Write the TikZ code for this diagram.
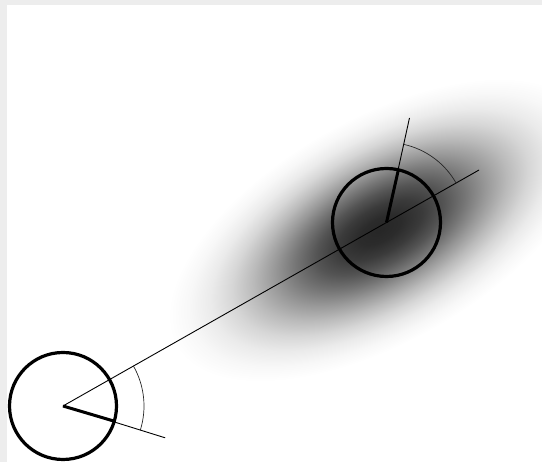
\documentclass[tikz,border=0pt]{standalone}
\usetikzlibrary{calc}
\pgfdeclareradialshading{blob}{\pgfpoint{0bp}{0bp}}{color(0bp)=(black!85); color(2.5bp)=(black!83); color(5bp)=(black!77); color(7.5bp)=(black!67); color(10bp)=(black!54); color(12.5bp)=(black!40); color(15bp)=(black!27); color(17.5bp)=(black!16); color(20bp)=(black!8); color(22.5bp)=(black!3); color(25bp)=(white); color(50bp)=(white)}
\definecolor{bggray}{HTML}{EDEDED}
\begin{document}
\begin{tikzpicture}[x=1pt,y=1pt,
  wheel/.style={line width=3.2pt},
  spoke/.style={line width=3pt},
  thinline/.style={line width=0.9pt},
  anglearc/.style={line width=0.7pt, black!85}]
\useasboundingbox (0,0) rectangle (542,462);
\fill[bggray] (0,0) rectangle (542,462);
\fill[white] (7.3,0) rectangle (542,457.3);
\shade[shading=blob, transform canvas={shift={(380,232)}, rotate=29.6}] (0,0) ellipse (235 and 112);
\coordinate (A) at (63,56);
\coordinate (B) at (386.5,239.5);
\coordinate (E) at ($(A)!1.286!(B)$);
\coordinate (A1) at ($(A)+(-17.3:107)$);
\coordinate (A2) at ($(A)+(-16.5:53.5)$);
\coordinate (B1) at ($(B)+(77.6:107)$);
\coordinate (B2) at ($(B)+(77.3:54)$);
\draw[thinline] (A) -- (E);
\draw[thinline] (A) -- (A1);
\draw[spoke] (A) -- (A2);
\draw[wheel] (A) circle (53.5);
\draw[anglearc] ($(A)+(-17.3:81)$) arc (-17.3:29.6:81);
\draw[thinline] (B) -- (B1);
\draw[spoke] (B) -- (B2);
\draw[wheel] (B) circle (54);
\draw[anglearc] ($(B)+(29.6:80)$) arc (29.6:77.6:80);
\end{tikzpicture}
\end{document}
